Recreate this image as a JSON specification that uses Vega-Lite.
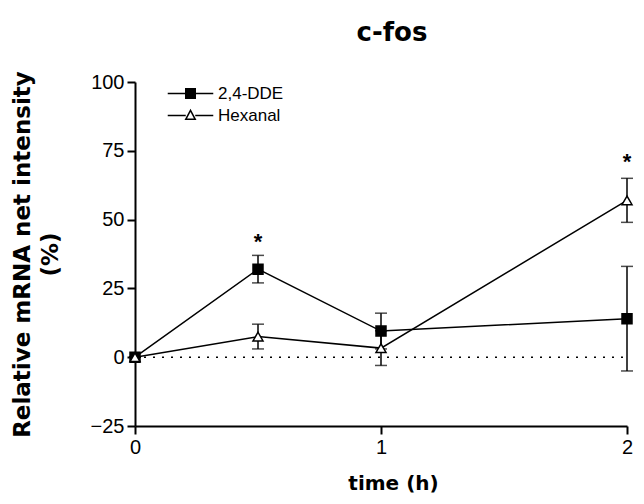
{
  "$schema": "https://vega.github.io/schema/vega-lite/v6.json",
  "width": 492,
  "height": 344,
  "autosize": "none",
  "padding": {"left": 135, "top": 82, "right": 17, "bottom": 78},
  "background": "white",
  "config": {
    "view": {"stroke": null},
    "font": "Liberation Sans",
    "axis": {"grid": false, "domainColor": "black", "domainWidth": 2, "tickColor": "black", "tickWidth": 2, "tickSize": 8, "labelColor": "black", "labelFontSize": 20, "labelFlush": false, "labelOverlap": false, "titleColor": "black", "titleFontWeight": "bold", "labelFont": "Liberation Sans", "titleFont": "DejaVu Sans"}
  },
  "title": {"text": "c-fos", "fontSize": 26, "fontWeight": "bold", "font": "DejaVu Sans", "color": "black", "anchor": "middle", "offset": 25, "dx": 11},
  "datasets": {
    "pts": [
      {"t": 0, "series": "2,4-DDE", "v": 0, "lo": 0, "hi": 0},
      {"t": 0.5, "series": "2,4-DDE", "v": 32, "lo": 27, "hi": 37},
      {"t": 1, "series": "2,4-DDE", "v": 9.5, "lo": 3, "hi": 16},
      {"t": 2, "series": "2,4-DDE", "v": 14, "lo": -5, "hi": 33},
      {"t": 0, "series": "Hexanal", "v": 0, "lo": 0, "hi": 0},
      {"t": 0.5, "series": "Hexanal", "v": 7.5, "lo": 3, "hi": 12},
      {"t": 1, "series": "Hexanal", "v": 3.3, "lo": -3, "hi": 9.6},
      {"t": 2, "series": "Hexanal", "v": 57, "lo": 49, "hi": 65}
    ],
    "stars": [
      {"t": 0.5, "v": 42, "label": "*"},
      {"t": 2, "v": 71, "label": "*"}
    ],
    "zero": [{"a": 0, "b": 2, "z": 0}]
  },
  "data": {"name": "pts"},
  "encoding": {
    "x": {"field": "t", "type": "quantitative", "scale": {"domain": [0, 2], "nice": false}, "axis": {"values": [0, 1, 2], "labelExpr": "'' + datum.value", "title": "time (h)", "titleFontSize": 20, "titlePadding": 16, "titleX": 258, "labelPadding": 3}}
  },
  "resolve": {"scale": {"shape": "independent", "fill": "independent", "stroke": "independent"}},
  "layer": [
    {
      "data": {"name": "zero"},
      "mark": {"type": "rule", "color": "black", "strokeWidth": 1.5, "strokeDash": [2, 7]},
      "encoding": {"x": {"field": "a", "type": "quantitative"}, "x2": {"field": "b"}, "y": {"field": "z", "type": "quantitative"}}
    },
    {
      "mark": {"type": "rule", "color": "black", "strokeWidth": 1.5},
      "encoding": {
        "y": {"field": "lo", "type": "quantitative"},
        "y2": {"field": "hi"}
      }
    },
    {
      "mark": {"type": "tick", "color": "black", "orient": "horizontal", "size": 12, "thickness": 1.5},
      "encoding": {
        "y": {"field": "lo", "type": "quantitative"}
      }
    },
    {
      "mark": {"type": "tick", "color": "black", "orient": "horizontal", "size": 12, "thickness": 1.5},
      "encoding": {
        "y": {"field": "hi", "type": "quantitative"}
      }
    },
    {
      "mark": {"type": "line", "color": "black", "strokeWidth": 1.5},
      "encoding": {
        "y": {"field": "v", "type": "quantitative"},
        "detail": {"field": "series"}
      }
    },
    {
      "mark": {"type": "point", "strokeWidth": 1.5, "opacity": 0},
      "encoding": {
        "y": {"field": "v", "type": "quantitative"},
        "shape": {"field": "series", "type": "nominal", "scale": {"domain": ["2,4-DDE", "Hexanal"], "range": ["M-4.8,0H4.8M-1,-1H1V1H-1Z", "M-4.8,0H-1M1,0H4.8M0,-1.1L1,0.8H-1Z"]},
          "legend": {"title": null, "orient": "none", "legendX": 47, "legendY": 3, "padding": 0, "rowPadding": 4, "labelFontSize": 17, "labelColor": "black", "labelOffset": 19, "symbolSize": 90, "symbolStrokeWidth": 1.5, "symbolOpacity": 1}},
        "fill": {"field": "series", "type": "nominal", "scale": {"domain": ["2,4-DDE", "Hexanal"], "range": ["black", "white"]},
          "legend": {"title": null, "orient": "none", "legendX": 47, "legendY": 3, "padding": 0, "rowPadding": 4, "labelFontSize": 17, "labelColor": "black", "labelOffset": 19, "symbolSize": 90, "symbolStrokeWidth": 1.5, "symbolOpacity": 1}},
        "stroke": {"field": "series", "type": "nominal", "scale": {"domain": ["2,4-DDE", "Hexanal"], "range": ["black", "black"]},
          "legend": {"title": null, "orient": "none", "legendX": 47, "legendY": 3, "padding": 0, "rowPadding": 4, "labelFontSize": 17, "labelColor": "black", "labelOffset": 19, "symbolSize": 90, "symbolStrokeWidth": 1.5, "symbolOpacity": 1}}
      }
    },
    {
      "mark": {"type": "point", "strokeWidth": 1.5, "opacity": 1, "stroke": "black"},
      "encoding": {
        "y": {"field": "v", "type": "quantitative", "scale": {"domain": [-25, 100], "nice": false}, "axis": {"values": [-25, 0, 25, 50, 75, 100], "title": ["Relative mRNA net intensity", "(%)"], "titleFontSize": 23, "titleLineHeight": 28, "titlePadding": 28, "labelPadding": 3}},
        "shape": {"field": "series", "type": "nominal", "scale": {"domain": ["2,4-DDE", "Hexanal"], "range": ["square", "triangle-up"]}, "legend": null},
        "fill": {"field": "series", "type": "nominal", "scale": {"domain": ["2,4-DDE", "Hexanal"], "range": ["black", "white"]}, "legend": null},
        "size": {"value": 100}
      }
    },
    {
      "data": {"name": "stars"},
      "mark": {"type": "text", "fontSize": 22, "fontWeight": "bold", "color": "black", "baseline": "middle"},
      "encoding": {
        "y": {"field": "v", "type": "quantitative"},
        "text": {"field": "label"}
      }
    }
  ]
}
